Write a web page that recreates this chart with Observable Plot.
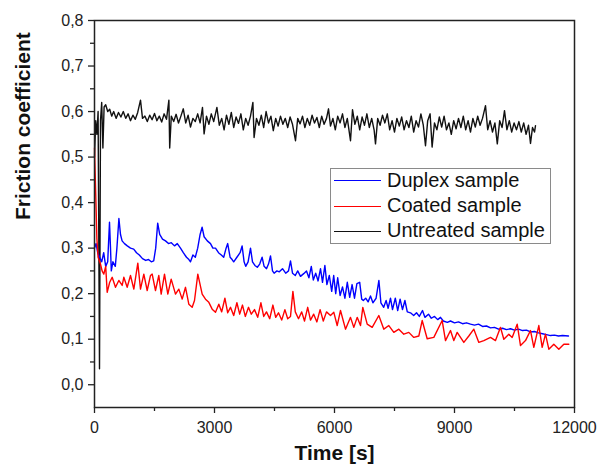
<!DOCTYPE html>
<html>
<head>
<meta charset="utf-8">
<script src="https://cdn.jsdelivr.net/npm/d3@7"></script>
<script src="https://cdn.jsdelivr.net/npm/@observablehq/plot@0.6"></script>
<style>
  html, body { margin: 0; padding: 0; background: #fff; }
  #wrap { position: relative; width: 597px; height: 471px; font-family: "Liberation Sans", Arial, sans-serif; }
  #legend { position: absolute; left: 330px; top: 168px; width: 219px; height: 74px; border: 1px solid #8a8a8a; background: #fff; }
  .row { position: absolute; left: 56px; font-size: 20px; line-height: 25px; color: #111; white-space: nowrap; }
  .sw { position: absolute; left: 3px; width: 47px; height: 0; border-top: 1.5px solid; }
</style>
</head>
<body>
<div id="wrap"></div>
<script>
// ---- data (time in s, friction coefficient) ----
const untreatedT = [0,30,60,90,125,150,180,210,240,280,330,380,430,480,540,600,660,720,780,840,900,960,1020,1080,1150,1200,1260,1320,1380,1440,1500,1560,1620,1680,1740,1800,1860,1880,1920,1980,2040,2100,2160,2220,2280,2340,2400,2460,2520,2580,2640,2700,2740,2800,2860,2920,2980,3060,3120,3180,3240,3300,3360,3420,3480,3540,3600,3660,3720,3780,3840,3900,3960,3990,4050,4110,4170,4230,4290,4350,4410,4470,4530,4590,4650,4710,4770,4830,4890,4950,5025,5080,5140,5200,5260,5320,5380,5440,5500,5560,5620,5680,5740,5800,5850,5900,5960,6020,6080,6140,6200,6260,6320,6400,6450,6510,6570,6630,6690,6750,6810,6870,6930,6990,7025,7080,7140,7200,7260,7320,7380,7440,7500,7560,7620,7680,7740,7800,7860,7920,7980,8040,8100,8160,8220,8275,8330,8390,8440,8500,8560,8620,8680,8740,8800,8860,8920,8980,9040,9100,9160,9220,9280,9340,9400,9460,9520,9580,9640,9700,9775,9830,9890,9950,10010,10070,10130,10190,10250,10310,10370,10430,10490,10550,10610,10670,10730,10790,10850,10900,10950,11000,11025];
const untreatedV = [0.50,0.58,0.55,0.60,0.035,0.58,0.62,0.52,0.61,0.615,0.60,0.605,0.59,0.60,0.585,0.598,0.588,0.60,0.585,0.595,0.58,0.592,0.583,0.598,0.625,0.585,0.59,0.578,0.592,0.582,0.596,0.58,0.59,0.577,0.595,0.583,0.625,0.52,0.59,0.578,0.594,0.575,0.59,0.606,0.575,0.592,0.566,0.585,0.578,0.595,0.575,0.609,0.551,0.59,0.572,0.595,0.578,0.609,0.57,0.585,0.56,0.592,0.572,0.598,0.565,0.588,0.574,0.595,0.56,0.585,0.57,0.59,0.62,0.543,0.585,0.57,0.592,0.565,0.60,0.575,0.59,0.558,0.585,0.568,0.59,0.572,0.585,0.565,0.588,0.572,0.536,0.585,0.573,0.59,0.565,0.585,0.57,0.592,0.575,0.587,0.565,0.59,0.572,0.585,0.606,0.568,0.585,0.56,0.59,0.575,0.595,0.565,0.585,0.536,0.604,0.572,0.59,0.56,0.588,0.57,0.595,0.565,0.585,0.56,0.529,0.585,0.57,0.592,0.575,0.595,0.56,0.58,0.555,0.585,0.568,0.588,0.56,0.58,0.565,0.59,0.555,0.58,0.566,0.595,0.57,0.525,0.58,0.595,0.522,0.575,0.56,0.588,0.566,0.59,0.56,0.575,0.55,0.58,0.562,0.585,0.565,0.59,0.56,0.58,0.555,0.585,0.566,0.59,0.57,0.585,0.613,0.56,0.58,0.555,0.575,0.529,0.58,0.565,0.602,0.56,0.58,0.555,0.575,0.56,0.578,0.555,0.575,0.55,0.57,0.53,0.565,0.555,0.569];

const duplexT = [0,40,80,130,180,230,280,330,375,400,420,460,520,560,610,650,690,750,820,900,980,1050,1120,1200,1280,1350,1420,1480,1530,1580,1630,1700,1775,1850,1920,2000,2070,2150,2220,2300,2360,2400,2460,2520,2580,2640,2690,2740,2820,2900,2960,3025,3100,3170,3230,3290,3330,3390,3440,3480,3560,3640,3690,3740,3780,3840,3900,3950,4010,4070,4130,4190,4240,4300,4350,4400,4450,4490,4560,4620,4700,4780,4850,4900,4950,5020,5080,5150,5230,5300,5360,5420,5470,5530,5590,5650,5700,5760,5810,5870,5930,5980,6030,6080,6140,6200,6260,6320,6380,6440,6500,6560,6630,6680,6720,6780,6840,6900,6960,7040,7110,7160,7230,7290,7340,7400,7450,7520,7580,7640,7700,7760,7820,7900,7980,8050,8120,8200,8260,8350,8420,8500,8580,8650,8720,8820,8900,9000,9100,9200,9300,9400,9500,9600,9700,9800,9900,10000,10100,10200,10300,10400,10500,10600,10700,10800,10900,11000,11100,11200,11300,11400,11500,11600,11700,11850];
const duplexV = [0.30,0.31,0.29,0.28,0.27,0.29,0.26,0.27,0.357,0.30,0.25,0.27,0.26,0.30,0.365,0.33,0.316,0.31,0.305,0.30,0.298,0.29,0.285,0.277,0.273,0.275,0.27,0.272,0.30,0.355,0.33,0.32,0.316,0.31,0.312,0.305,0.31,0.30,0.29,0.28,0.275,0.27,0.285,0.28,0.30,0.33,0.346,0.325,0.316,0.31,0.30,0.30,0.29,0.285,0.28,0.30,0.31,0.28,0.275,0.27,0.28,0.29,0.305,0.27,0.26,0.27,0.30,0.27,0.262,0.258,0.265,0.28,0.26,0.255,0.265,0.283,0.25,0.245,0.25,0.248,0.255,0.245,0.25,0.272,0.245,0.24,0.25,0.238,0.244,0.25,0.235,0.26,0.23,0.245,0.228,0.255,0.225,0.262,0.22,0.24,0.205,0.24,0.20,0.235,0.196,0.215,0.19,0.225,0.192,0.22,0.19,0.222,0.225,0.188,0.185,0.19,0.182,0.195,0.18,0.19,0.229,0.18,0.17,0.185,0.168,0.19,0.165,0.19,0.163,0.188,0.165,0.185,0.16,0.158,0.152,0.158,0.15,0.163,0.148,0.155,0.146,0.15,0.143,0.148,0.14,0.137,0.14,0.136,0.138,0.134,0.136,0.133,0.131,0.133,0.128,0.129,0.125,0.126,0.122,0.124,0.121,0.123,0.12,0.122,0.119,0.12,0.116,0.117,0.114,0.112,0.11,0.108,0.109,0.107,0.108,0.107];

const coatedT = [0,30,60,90,150,190,233,280,317,380,442,525,608,692,733,817,900,983,1083,1150,1233,1317,1400,1442,1525,1608,1667,1750,1833,1917,2025,2108,2192,2275,2358,2442,2500,2583,2692,2775,2858,2942,3025,3108,3180,3260,3330,3400,3480,3560,3630,3700,3770,3850,3920,4000,4080,4160,4230,4300,4380,4460,4530,4600,4680,4760,4830,4900,4960,5020,5100,5180,5250,5330,5400,5480,5560,5640,5720,5800,5900,5983,6067,6150,6275,6400,6483,6567,6650,6708,6817,6942,7108,7233,7358,7483,7608,7733,7858,7983,8108,8192,8317,8483,8692,8775,8900,8983,9067,9233,9358,9483,9608,9733,9900,10025,10150,10233,10358,10442,10567,10650,10775,10900,10983,11108,11192,11275,11358,11483,11608,11733,11858];
const coatedV = [0.52,0.42,0.32,0.28,0.265,0.25,0.243,0.26,0.203,0.225,0.236,0.214,0.229,0.218,0.236,0.214,0.240,0.210,0.267,0.210,0.243,0.207,0.240,0.243,0.207,0.240,0.199,0.243,0.199,0.232,0.199,0.210,0.188,0.214,0.177,0.170,0.185,0.243,0.199,0.188,0.181,0.166,0.159,0.177,0.16,0.19,0.158,0.17,0.152,0.18,0.155,0.175,0.15,0.17,0.155,0.165,0.148,0.18,0.15,0.16,0.145,0.175,0.148,0.158,0.142,0.165,0.145,0.15,0.205,0.16,0.145,0.16,0.14,0.17,0.142,0.155,0.138,0.165,0.14,0.16,0.152,0.159,0.13,0.163,0.122,0.148,0.126,0.148,0.13,0.17,0.133,0.126,0.152,0.122,0.13,0.115,0.122,0.111,0.115,0.104,0.107,0.141,0.101,0.104,0.141,0.097,0.119,0.097,0.115,0.093,0.107,0.122,0.093,0.097,0.104,0.097,0.126,0.100,0.111,0.104,0.133,0.086,0.097,0.119,0.082,0.13,0.082,0.111,0.078,0.089,0.078,0.089,0.089];

const xMajor = [0, 3000, 6000, 9000, 12000];
const xMinor = [1500, 4500, 7500, 10500];
const yMajor = [0, 0.1, 0.2, 0.3, 0.4, 0.5, 0.6, 0.7, 0.8];
const yMinor = [0.05, 0.15, 0.25, 0.35, 0.45, 0.55, 0.65, 0.75];

const seriesNames = ["Duplex sample", "Coated sample", "Untreated sample"];
const seriesColors = ["#0000ff", "#ff0000", "#111111"];

const toRows = (T, V) => T.map((t, i) => ({t, v: V[i]}));
const duplex = toRows(duplexT, duplexV);
const coated = toRows(coatedT, coatedV);
const untreated = toRows(untreatedT, untreatedV);

const fmt = d => d.toFixed(1).replace(".", ",");

const chart = Plot.plot({
  width: 597,
  height: 471,
  marginLeft: 94,
  marginRight: 23,
  marginTop: 20,
  marginBottom: 64,
  style: {fontFamily: "'Liberation Sans', Arial, sans-serif", fontSize: "16px", color: "#222", background: "#fff"},
  x: {domain: [0, 12000]},
  y: {domain: [-0.05, 0.8]},
  marks: [
    Plot.line(untreated, {x: "t", y: "v", stroke: seriesColors[2], strokeWidth: 1.4}),
    Plot.line(duplex, {x: "t", y: "v", stroke: seriesColors[0], strokeWidth: 1.4}),
    Plot.line(coated, {x: "t", y: "v", stroke: seriesColors[1], strokeWidth: 1.4}),
    Plot.frame({stroke: "#222", strokeWidth: 1.5}),
    Plot.axisX({ticks: xMajor, tickSize: 6, tickPadding: 8, tickFormat: d => String(d), label: null, fontSize: 16, stroke: "#222", strokeWidth: 1.3}),
    Plot.axisX({ticks: xMinor, tickSize: 4, tickFormat: () => "", label: null, stroke: "#222", strokeWidth: 1.3}),
    Plot.axisY({ticks: yMajor, tickSize: 6, tickPadding: 5, tickFormat: fmt, label: null, fontSize: 16, stroke: "#222", strokeWidth: 1.3}),
    Plot.axisY({ticks: yMinor, tickSize: 4, tickFormat: () => "", label: null, stroke: "#222", strokeWidth: 1.3}),
    Plot.text(["Time [s]"], {frameAnchor: "bottom", dy: 52, fontSize: 21, fontWeight: "bold", fill: "#111"}),
    Plot.text(["Friction coefficient"], {frameAnchor: "left", dx: -71, dy: 6, rotate: -90, fontSize: 21, fontWeight: "bold", fill: "#111"})
  ]
});

const wrap = document.getElementById("wrap");
wrap.appendChild(chart);

const legend = document.createElement("div");
legend.id = "legend";
seriesNames.forEach((name, i) => {
  const sw = document.createElement("div");
  sw.className = "sw";
  sw.style.top = (11 + i * 25.5) + "px";
  sw.style.borderTopColor = seriesColors[i];
  legend.appendChild(sw);
  const row = document.createElement("div");
  row.className = "row";
  row.style.top = (-1 + i * 25) + "px";
  row.textContent = name;
  legend.appendChild(row);
});
wrap.appendChild(legend);
</script>
</body>
</html>
